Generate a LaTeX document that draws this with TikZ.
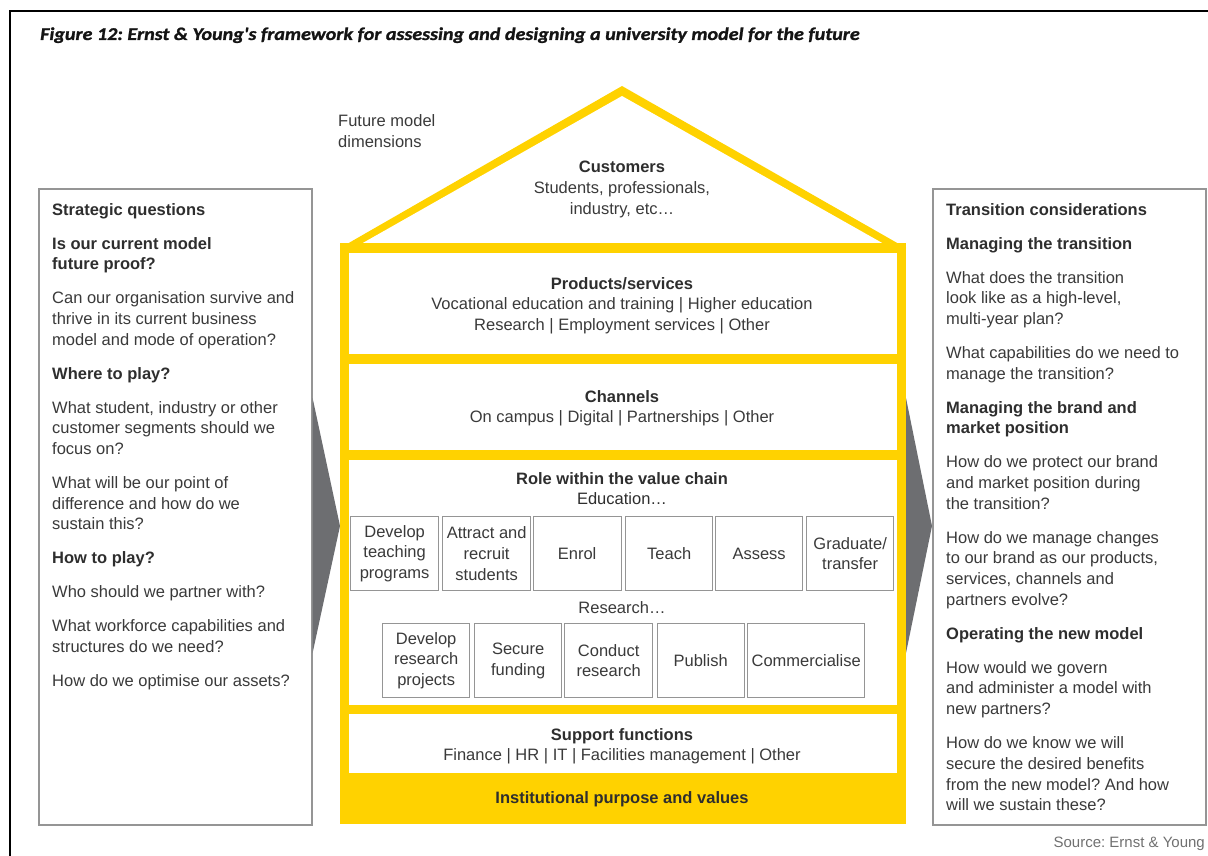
\documentclass[tikz,border=0pt]{standalone}
\usepackage{fontspec}
\setmainfont{Liberation Sans}
\newfontfamily\titlefont[BoldItalicFeatures={FakeStretch=1.115, FakeBold=1.2}]{Carlito}
\definecolor{eyyellow}{HTML}{FFD200}
\definecolor{arrowgray}{HTML}{6D6E71}
\definecolor{txtgray}{HTML}{3A3A3A}
\definecolor{hdgray}{HTML}{2E2E2E}
\definecolor{boxgray}{HTML}{959595}
\definecolor{srcgray}{HTML}{707070}
\newcommand{\hd}[1]{\textbf{\color{hdgray}#1}}
\newcommand{\pg}{13.3pt}
\frenchspacing
\tikzset{
  txt/.style={font=\fontsize{16.5}{20.7}\selectfont\frenchspacing, text=txtgray, inner sep=0pt},
  sidepanel/.style={draw=boxgray, line width=1.6pt, fill=white, inner sep=0pt, anchor=north west},
  whitepanel/.style={fill=white, draw=none, inner sep=0pt, anchor=north west},
  stepbox/.style={draw=boxgray, line width=1.3pt, fill=white, inner sep=0pt, anchor=north west,
    minimum height=74pt, align=center, font=\fontsize{16.5}{20.7}\selectfont, text=txtgray},
  chevron/.style={fill=arrowgray, draw=none},
}
\begin{document}
\begin{tikzpicture}[x=1pt,y=-1pt]
\path[use as bounding box] (0,0) rectangle (1208,856);
% frame
\draw[line width=2.5pt, black] (1208,11) -- (10,11) -- (10,856);
% title
\node[anchor=base west, inner sep=0pt, font=\titlefont\bfseries\itshape\fontsize{18}{20}\selectfont, text=black!92] (title) at (40,40)
  {Figure 12: Ernst \& Young's framework for assessing and designing a university model for the future};

% side panels
\node[sidepanel, minimum width=273pt, minimum height=636pt] (lbox) at (38,188) {};
\node[sidepanel, minimum width=273pt, minimum height=636pt] (rbox) at (932,188) {};

% chevrons
\fill[chevron] (lbox.east |- 0,398) -- (340,526) -- (lbox.east |- 0,653) -- cycle;
\fill[chevron] (906,398) -- (rbox.west |- 0,526) -- (906,653) -- cycle;

% roof
\fill[eyyellow] (340,248) -- (622,86) -- (906,248) -- cycle;
\fill[white] (361,244) -- (622,96) -- (884,244) -- cycle;
% house body
\node[fill=eyyellow, inner sep=0pt, anchor=north west, minimum width=566pt, minimum height=581pt] (body) at (340,243) {};
\node[whitepanel, minimum width=548pt, minimum height=101pt] (prod) at (349,253) {};
\node[whitepanel, minimum width=548pt, minimum height=86pt] (chan) at (349,364) {};
\node[whitepanel, minimum width=548pt, minimum height=245pt] (role) at (349,460) {};
\node[whitepanel, minimum width=548pt, minimum height=59pt] (supp) at (349,714) {};

% future model dimensions
\node[txt, anchor=base west] (fmd) at (338,127) {\begin{tabular}[t]{@{}l@{}}Future model\\dimensions\end{tabular}};

% house texts
\node[txt, anchor=base] (cust) at (622,173) {\begin{tabular}[t]{@{}c@{}}\hd{Customers}\\Students, professionals,\\industry, etc…\end{tabular}};
\node[txt, anchor=base] (prodt) at (622,289) {\begin{tabular}[t]{@{}c@{}}\hd{Products/services}\\Vocational education and training | Higher education\\Research | Employment services | Other\end{tabular}};
\node[txt, anchor=base] (chant) at (622,402) {\begin{tabular}[t]{@{}c@{}}\hd{Channels}\\On campus | Digital | Partnerships | Other\end{tabular}};
\node[txt, anchor=base] (rolet) at (622,484) {\begin{tabular}[t]{@{}c@{}}\hd{Role within the value chain}\\\color{hdgray}Education…\end{tabular}};
\node[txt, anchor=base] (rest) at (622,613) {Research…};
\node[txt, anchor=base] (suppt) at (622,740) {\begin{tabular}[t]{@{}c@{}}\hd{Support functions}\\Finance | HR | IT | Facilities management | Other\end{tabular}};
\node[txt, anchor=base] (inst) at (622,803) {\hd{Institutional purpose and values}};

% education steps
\node[stepbox, minimum width=88pt] (e1) at (350,516) {Develop\\teaching\\programs};
\node[stepbox, minimum width=88pt] (e2) at (442,516) {Attract and\\recruit\\students};
\node[stepbox, minimum width=88pt] (e3) at (532.5,516) {Enrol};
\node[stepbox, minimum width=87pt] (e4) at (625,516) {Teach};
\node[stepbox, minimum width=87pt] (e5) at (715,516) {Assess};
\node[stepbox, minimum width=87pt] (e6) at (806,516) {Graduate/\\transfer};
% research steps
\node[stepbox, minimum width=87pt] (r1) at (382,623) {Develop\\research\\projects};
\node[stepbox, minimum width=87pt] (r2) at (474,623) {Secure\\funding};
\node[stepbox, minimum width=88pt] (r3) at (564,623) {Conduct\\research};
\node[stepbox, minimum width=87pt] (r4) at (656.5,623) {Publish};
\node[stepbox, minimum width=117pt] (r5) at (747,623) {Commercialise};

% left panel text
\node[txt, anchor=base west] (ltext) at (52,215) {\begin{tabular}[t]{@{}l@{}}
\hd{Strategic questions}\\[\pg]
\hd{Is our current model}\\
\hd{future proof?}\\[\pg]
Can our organisation survive and\\
thrive in its current business\\
model and mode of operation?\\[\pg]
\hd{Where to play?}\\[\pg]
What student, industry or other\\
customer segments should we\\
focus on?\\[\pg]
What will be our point of\\
difference and how do we\\
sustain this?\\[\pg]
\hd{How to play?}\\[\pg]
Who should we partner with?\\[\pg]
What workforce capabilities and\\
structures do we need?\\[\pg]
How do we optimise our assets?
\end{tabular}};

% right panel text
\node[txt, anchor=base west] (rtext) at (946,215) {\begin{tabular}[t]{@{}l@{}}
\hd{Transition considerations}\\[\pg]
\hd{Managing the transition}\\[\pg]
What does the transition\\
look like as a high-level,\\
multi-year plan?\\[\pg]
What capabilities do we need to\\
manage the transition?\\[\pg]
\hd{Managing the brand and}\\
\hd{market position}\\[\pg]
How do we protect our brand\\
and market position during\\
the transition?\\[\pg]
How do we manage changes\\
to our brand as our products,\\
services, channels and\\
partners evolve?\\[\pg]
\hd{Operating the new model}\\[\pg]
How would we govern\\
and administer a model with\\
new partners?\\[\pg]
How do we know we will\\
secure the desired benefits\\
from the new model? And how\\
will we sustain these?
\end{tabular}};

% source
\node[txt, anchor=base east, text=srcgray, font=\fontsize{15}{18}\selectfont\frenchspacing] (src) at (1205,847) {Source: Ernst \& Young};
\end{tikzpicture}
\end{document}
